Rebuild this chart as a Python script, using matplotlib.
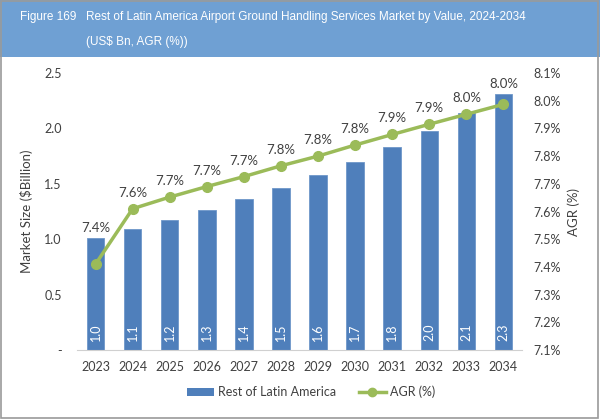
import matplotlib.pyplot as plt
from matplotlib.patches import Rectangle
from matplotlib.lines import Line2D

years = ['2023', '2024', '2025', '2026', '2027', '2028',
         '2029', '2030', '2031', '2032', '2033', '2034']
market_size = [1.01, 1.09, 1.17, 1.26, 1.36, 1.46, 1.58, 1.70, 1.83, 1.98, 2.14, 2.31]
agr = [7.41, 7.61, 7.652, 7.69, 7.726, 7.765, 7.80, 7.84, 7.878, 7.915, 7.951, 7.987]
left_ticks = [0, 0.5, 1.0, 1.5, 2.0, 2.5]
right_ticks = [7.1, 7.2, 7.3, 7.4, 7.5, 7.6, 7.7, 7.8, 7.9, 8.0, 8.1]

bar_color = '#4f7fbb'
line_color = '#9bbb59'
text_color = '#404040'
font = 'Lato'
title_font = 'Liberation Sans'

fig = plt.figure(figsize=(6, 4.19), dpi=100)

# title band
fig.patches.append(Rectangle((0, 1 - 57 / 419), 1, 57 / 419, transform=fig.transFigure,
                             facecolor='#6fa0d3', edgecolor='none', zorder=0))
fig.patches.append(Rectangle((0.002, 0.003), 0.995, 0.995, transform=fig.transFigure,
                             facecolor='none', edgecolor='#9a9a9a', lw=1.2, zorder=5))
fig.text(20 / 600, 1 - 17 / 419, 'Figure 169', color='white', fontsize=8.5,
         family=title_font, va='center')
fig.text(86 / 600, 1 - 17 / 419,
         'Rest of Latin America Airport Ground Handling Services Market by Value, 2024-2034',
         color='white', fontsize=8.5, family=title_font, va='center')
fig.text(86 / 600, 1 - 42 / 419, '(US$ Bn, AGR (%))', color='white', fontsize=8.5,
         family=title_font, va='center')

ax = fig.add_axes([77 / 600, 1 - 350 / 419, (522 - 77) / 600, (350 - 73) / 419])
x = list(range(len(years)))
ax.bar(x, market_size, width=0.47, color=bar_color, edgecolor='#6f97c9', lw=0.6, zorder=2)
for xi, v in zip(x, market_size):
    ax.text(xi, 0.08, f'{v:.1f}', rotation=90, color='white', ha='center', va='bottom',
            fontsize=9, family=font, zorder=3)

ax.set_xlim(-0.5, len(years) - 0.5)
ax.set_ylim(0, 2.5)
ax.set_yticks(left_ticks)
ax.set_yticklabels(['-' if t == 0 else f'{t:.1f}' for t in left_ticks])
ax.set_xticks(x)
ax.set_xticklabels(years)
for side in ['top', 'right', 'left']:
    ax.spines[side].set_visible(False)
ax.spines['bottom'].set_color('#d0d0d0')
ax.tick_params(axis='both', length=0, colors=text_color, labelsize=9)
ax.tick_params(axis='y', pad=11)
ax.tick_params(axis='x', pad=8)
for lab in ax.get_xticklabels() + ax.get_yticklabels():
    lab.set_family(font)
ax.set_ylabel('Market Size ($Billion)', fontsize=9.5, color=text_color, family=font, labelpad=8)

ax2 = ax.twinx()
ax2.plot(x, agr, color=line_color, lw=2.5, marker='o', markersize=7, zorder=4)
ax2.set_ylim(7.1, 8.1)
fig.canvas.draw()
# label sits 16 px above the point, but never closer than 10 px to its bar top
inv = ax2.transData.inverted()
for xi, v, b in zip(x, agr, market_size):
    py = ax2.transData.transform((xi, v))[1] + 16
    by = ax.transData.transform((xi, b))[1] + 10
    ty = inv.transform((0, max(py, by)))[1]
    ax2.text(xi, ty, f'{v:.1f}%', ha='center', va='center', fontsize=9.5,
             color=text_color, family=font)
ax2.set_yticks(right_ticks)
ax2.set_yticklabels([f'{t:.1f}%' for t in right_ticks])
for side in ['top', 'right', 'left', 'bottom']:
    ax2.spines[side].set_visible(False)
ax2.tick_params(axis='y', length=0, colors=text_color, labelsize=9, pad=8)
for lab in ax2.get_yticklabels():
    lab.set_family(font)
ax2.set_ylabel('AGR (%)', fontsize=9.5, color=text_color, family=font, labelpad=5)

handles = [Rectangle((0, 0), 1, 1, facecolor=bar_color, edgecolor='none'),
           Line2D([0], [0], color=line_color, lw=2.5, marker='o', markersize=6)]
leg = fig.legend(handles, ['Rest of Latin America', 'AGR (%)'], loc='center',
                 bbox_to_anchor=(311 / 600, 1 - 392 / 419), ncol=2, frameon=False,
                 prop={'family': font, 'size': 9}, handlelength=2.2, handleheight=0.6,
                 columnspacing=1.8, handletextpad=0.3)
for t in leg.get_texts():
    t.set_color(text_color)

fig.savefig('out.png', dpi=100)
